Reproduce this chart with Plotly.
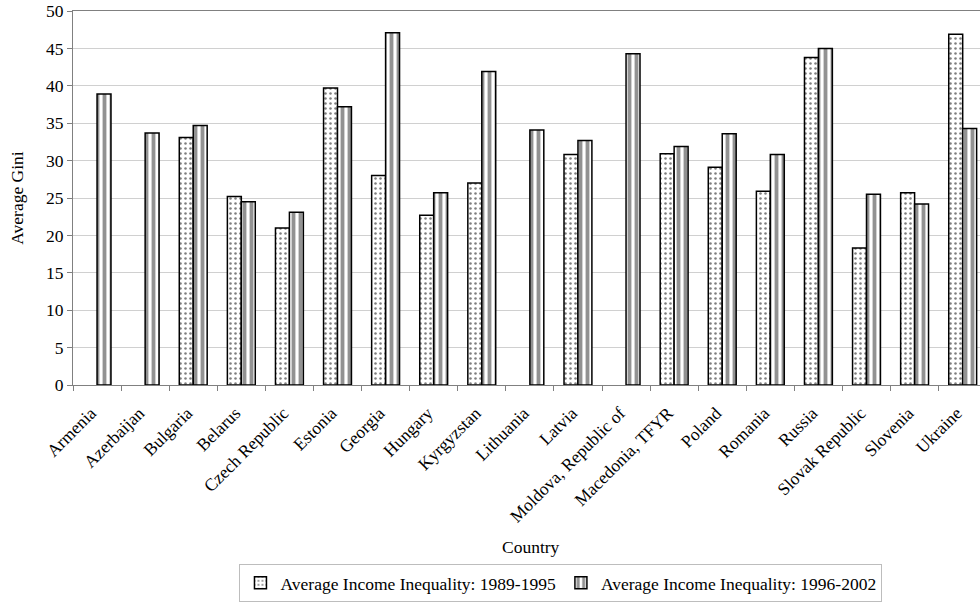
import plotly.graph_objects as go

countries = ["Armenia", "Azerbaijan", "Bulgaria", "Belarus", "Czech Republic", "Estonia",
             "Georgia", "Hungary", "Kyrgyzstan", "Lithuania", "Latvia",
             "Moldova, Republic of", "Macedonia, TFYR", "Poland", "Romania", "Russia",
             "Slovak Republic", "Slovenia", "Ukraine"]
gini_1989_1995 = [None, None, 33.1, 25.2, 21.0, 39.7, 28.0, 22.7, 27.0, None, 30.8,
                  None, 30.9, 29.1, 25.9, 43.8, 18.3, 25.7, 46.9]
gini_1996_2002 = [38.9, 33.7, 34.7, 24.5, 23.1, 37.2, 47.1, 25.7, 41.9, 34.1, 32.7,
                  44.3, 31.9, 33.6, 30.8, 45.0, 25.5, 24.2, 34.3]
y_ticks = [0, 5, 10, 15, 20, 25, 30, 35, 40, 45, 50]

serif = "Liberation Serif, Times New Roman, serif"
fs = 17.5

fig = go.Figure()
fig.add_trace(go.Bar(
    x=countries, y=gini_1989_1995,
    name="Average Income Inequality: 1989-1995",
    marker=dict(color="white",
                line=dict(color="black", width=1.5),
                pattern=dict(shape=".", fgcolor="black", bgcolor="white",
                             size=5, solidity=0.2)),
))
fig.add_trace(go.Bar(
    x=countries, y=gini_1996_2002,
    name="Average Income Inequality: 1996-2002",
    marker=dict(color="white",
                line=dict(color="black", width=1.5),
                pattern=dict(shape="|", fgcolor="#262626", bgcolor="white",
                             size=7, solidity=0.55)),
))

fig.update_layout(
    width=980, height=605,
    margin=dict(l=73, r=0, t=11, b=220),
    plot_bgcolor="white", paper_bgcolor="white",
    barmode="group", bargap=0.42, bargroupgap=0,
    font=dict(family=serif, size=fs, color="black"),
    showlegend=True,
    legend=dict(orientation="h", x=0.538, xanchor="center", y=-0.58, yanchor="bottom",
                bordercolor="#bdbdbd", borderwidth=1, font=dict(size=fs),
                itemwidth=30, tracegroupgap=0),
    annotations=[
        dict(text="Average Gini", xref="paper", yref="paper", x=-0.062, y=0.5,
             xanchor="center", yanchor="middle", textangle=-90, showarrow=False,
             font=dict(size=fs)),
        dict(text="Country", xref="paper", yref="paper", x=0.505, y=-0.432,
             xanchor="center", yanchor="middle", showarrow=False,
             font=dict(size=fs)),
    ],
)
fig.update_xaxes(
    type="category", range=[-0.5, 18.36], tickangle=-45,
    tickson="boundaries", ticks="outside", ticklen=5, tickcolor="#808080",
    showline=True, linecolor="#808080", linewidth=1, mirror=True,
    showgrid=False, tickfont=dict(size=fs), ticklabelstandoff=10, ticklabelshift=-6,
)
fig.update_yaxes(
    range=[0, 50], tickvals=y_ticks, ticks="outside", ticklen=5, tickcolor="#808080",
    showline=True, linecolor="#808080", linewidth=1,
    showgrid=True, gridcolor="#d0d0d0", gridwidth=1, zeroline=False,
    tickfont=dict(size=fs),
)

fig.write_html("out.html")
